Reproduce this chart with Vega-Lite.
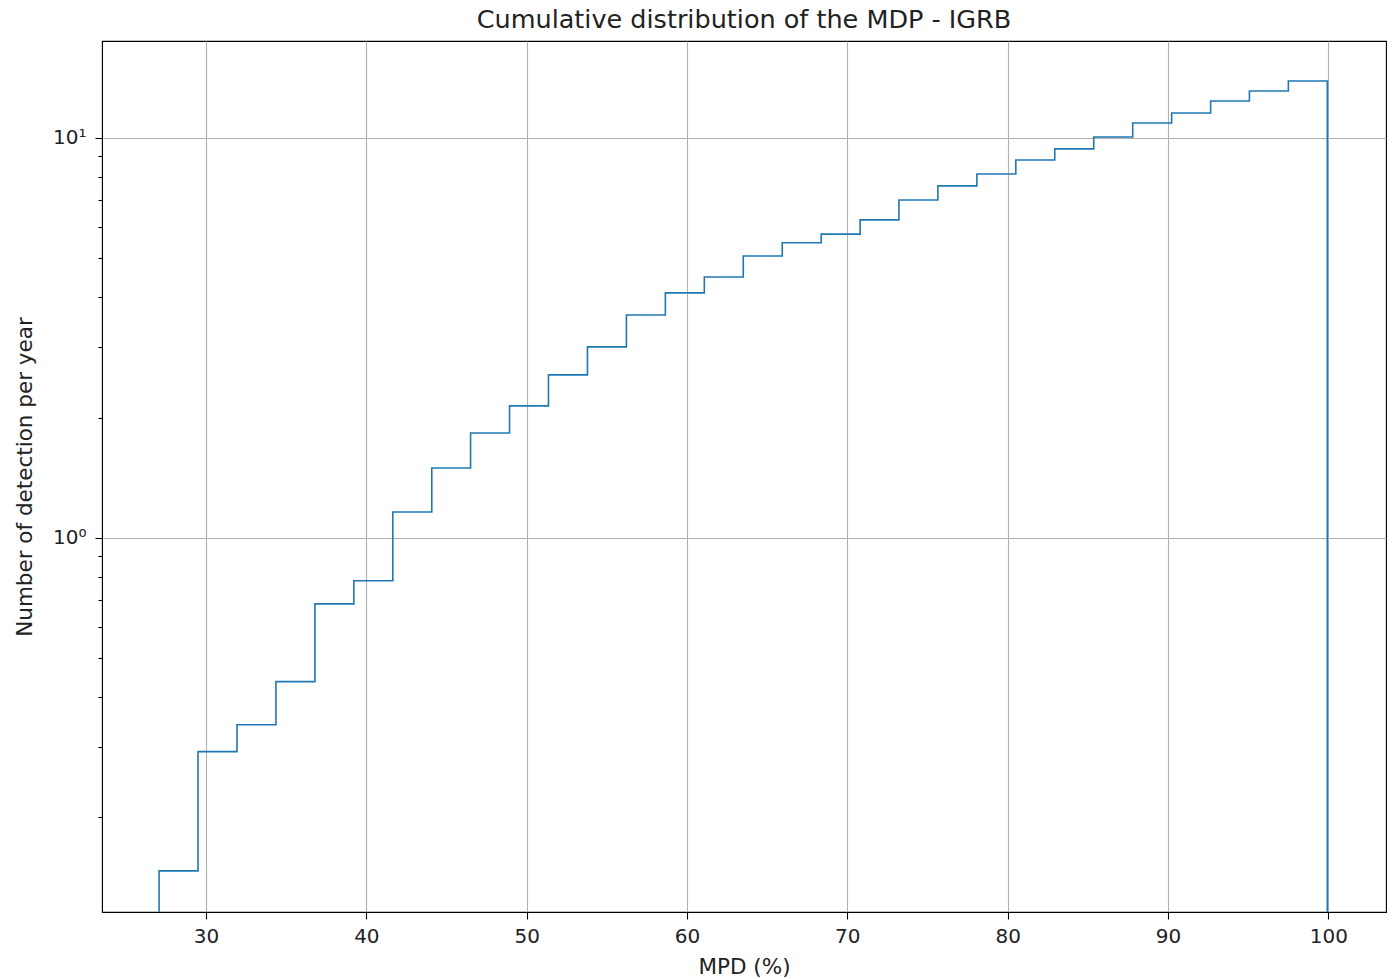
{
  "$schema": "https://vega.github.io/schema/vega-lite/v6.json",
  "autosize": "none",
  "width": 1284,
  "height": 871,
  "padding": {"left": 102, "top": 41, "right": 10, "bottom": 67},
  "background": "white",
  "config": {
    "font": "DejaVu Sans",
    "view": {"stroke": "black", "strokeWidth": 1.1},
    "axis": {"labelFont": "DejaVu Sans", "titleFont": "DejaVu Sans", "labelFontSize": 20, "titleFontSize": 21.5, "titleFontWeight": "normal", "labelColor": "#222222", "titleColor": "#222222", "tickColor": "black", "domainColor": "black", "gridColor": "#b0b0b0", "gridWidth": 1.1, "gridOpacity": 1, "tickWidth": 1.1}
  },
  "title": {"text": "Cumulative distribution of the MDP - IGRB", "fontSize": 25.5, "font": "DejaVu Sans", "fontWeight": "normal", "color": "#222222", "offset": 8},
  "data": {"values": [
    {"i": 0, "x": 27.07, "y": 0.01},
    {"i": 1, "x": 27.07, "y": 0.147},
    {"i": 2, "x": 29.50, "y": 0.292},
    {"i": 3, "x": 31.93, "y": 0.341},
    {"i": 4, "x": 34.36, "y": 0.437},
    {"i": 5, "x": 36.79, "y": 0.684},
    {"i": 6, "x": 39.22, "y": 0.781},
    {"i": 7, "x": 41.65, "y": 1.161},
    {"i": 8, "x": 44.08, "y": 1.496},
    {"i": 9, "x": 46.50, "y": 1.83},
    {"i": 10, "x": 48.93, "y": 2.138},
    {"i": 11, "x": 51.36, "y": 2.556},
    {"i": 12, "x": 53.79, "y": 3.003},
    {"i": 13, "x": 56.22, "y": 3.61},
    {"i": 14, "x": 58.65, "y": 4.1},
    {"i": 15, "x": 61.08, "y": 4.49},
    {"i": 16, "x": 63.51, "y": 5.07},
    {"i": 17, "x": 65.94, "y": 5.47},
    {"i": 18, "x": 68.37, "y": 5.75},
    {"i": 19, "x": 70.80, "y": 6.24},
    {"i": 20, "x": 73.22, "y": 7.0},
    {"i": 21, "x": 75.65, "y": 7.59},
    {"i": 22, "x": 78.08, "y": 8.13},
    {"i": 23, "x": 80.51, "y": 8.81},
    {"i": 24, "x": 82.94, "y": 9.39},
    {"i": 25, "x": 85.37, "y": 10.06},
    {"i": 26, "x": 87.80, "y": 10.9},
    {"i": 27, "x": 90.23, "y": 11.55},
    {"i": 28, "x": 92.66, "y": 12.37},
    {"i": 29, "x": 95.08, "y": 13.11},
    {"i": 30, "x": 97.51, "y": 13.88},
    {"i": 31, "x": 99.94, "y": 13.88},
    {"i": 32, "x": 99.94, "y": 0.01}
  ]},
  "layer": [
    {
      "mark": {"type": "line", "interpolate": "step-after", "color": "#1f77b4", "strokeWidth": 1.6, "clip": true},
      "encoding": {
        "x": {"field": "x", "type": "quantitative", "title": "MPD (%)",
              "scale": {"domain": [23.51, 103.6], "nice": false, "zero": false},
              "axis": {"values": [30, 40, 50, 60, 70, 80, 90, 100], "tickSize": 7, "labelPadding": 7, "titlePadding": 10, "grid": true}},
        "y": {"field": "y", "type": "quantitative", "title": "Number of detection per year",
              "scale": {"type": "log", "domain": [0.116, 17.48], "nice": false},
              "axis": {"values": [1, 10], "labelExpr": "datum.value == 1 ? '10⁰' : '10¹'", "tickSize": 7, "labelPadding": 9, "titlePadding": 16, "grid": true, "orient": "left"}},
        "order": {"field": "i", "type": "quantitative"}
      }
    },
    {
      "mark": {"type": "line", "opacity": 0, "clip": true},
      "encoding": {
        "x": {"field": "x", "type": "quantitative"},
        "y": {"field": "y", "type": "quantitative",
              "axis": {"values": [0.2, 0.3, 0.4, 0.5, 0.6, 0.7, 0.8, 0.9, 2, 3, 4, 5, 6, 7, 8, 9], "labels": false, "tickSize": 4, "grid": false, "domain": false, "title": null, "orient": "left"}},
        "order": {"field": "i", "type": "quantitative"}
      }
    }
  ],
  "resolve": {"axis": {"y": "independent"}}
}
